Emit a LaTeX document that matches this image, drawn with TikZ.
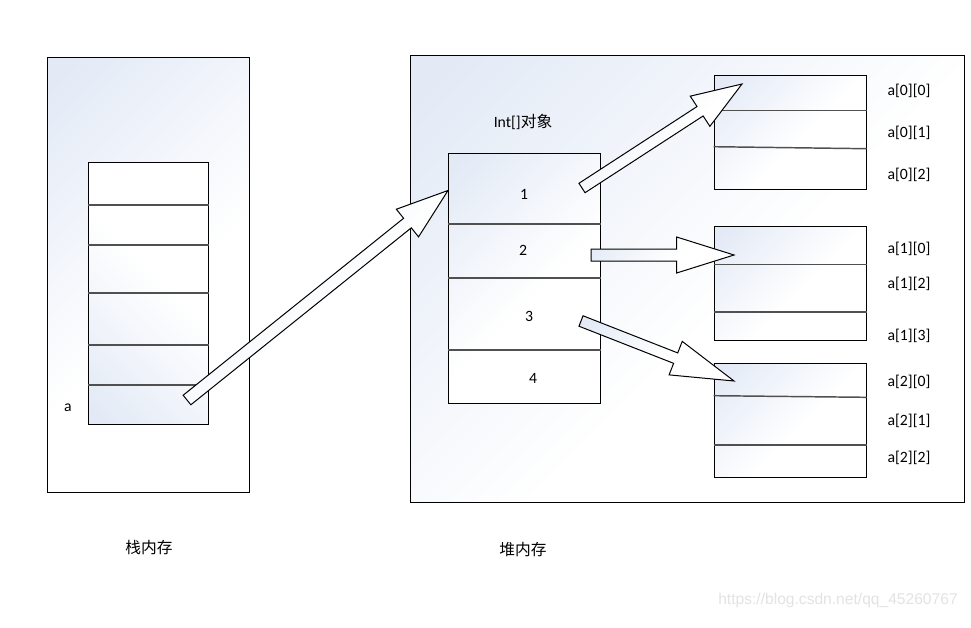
\documentclass[tikz,border=0pt]{standalone}
\usepackage{fontspec}
\setmainfont{Carlito}
\newfontfamily\cjk{Noto Sans CJK SC}
\newfontfamily\wmfont{Liberation Sans}
\usetikzlibrary{calc}
\definecolor{tint}{HTML}{E3EAF6}
\definecolor{divc}{HTML}{505050}
\pgfdeclarehorizontalshading{boxshade}{100bp}{color(0bp)=(tint); color(18bp)=(tint); color(55bp)=(white); color(100bp)=(white)}
\tikzset{
  box/.style={draw=black, line width=0.75pt, shading=boxshade, shading angle=-45, inner sep=0pt},
  divline/.style={draw=divc, line width=1.1pt},
  lbl/.style={font=\fontsize{11.8}{14}\selectfont, inner sep=0pt},
  cjklbl/.style={font=\cjk\fontsize{11.8}{14}\selectfont, inner sep=0pt},
  barrow/.style={draw=black, line width=0.75pt, shading=boxshade, shading angle=-45, line join=miter},
}
% name, x1, y1, x2, y2, style
\newcommand\mkbox[6]{%
  \node[#6, minimum width={(#4-#2)*0.75pt}, minimum height={(#5-#3)*0.75pt}] (#1) at ({(#2+#4)/2},{(#3+#5)/2}) {};}
% tail, tip, shaft half width (pt), head half width (pt), head length (pt)
\newcommand\blockarrow[5]{%
  \path[barrow] ($(#1)!#3!90:(#2)$) -- ($($(#2)!#5!(#1)$)!#3!-90:(#1)$)
     -- ($($(#2)!#5!(#1)$)!#4!-90:(#1)$) -- (#2)
     -- ($($(#2)!#5!(#1)$)!#4!90:(#1)$) -- ($($(#2)!#5!(#1)$)!#3!90:(#1)$)
     -- ($(#1)!#3!-90:(#2)$) -- cycle;}
\begin{document}
\begin{tikzpicture}[x=0.75pt, y=-0.75pt]
\useasboundingbox (0,0) rectangle (971,628);
\fill[white] (0,0) rectangle (971,628);

% stack memory
\mkbox{stack}{47}{57}{249}{492}{box}
\mkbox{stackin}{88}{162}{208}{424}{box, shading angle=45}
\foreach \yy in {205,245,293,345,385}
  \draw[divline] (stackin.west |- 0,\yy) -- (stackin.east |- 0,\yy);
\node[lbl] (la) at (68,408) {a};

% heap memory
\mkbox{heap}{410}{55}{964}{502}{box}
\mkbox{intarr}{448}{153}{600}{403}{box}
\foreach \yy in {224,278,350}
  \draw[divline] (intarr.west |- 0,\yy) -- (intarr.east |- 0,\yy);
\node[lbl] (n1) at (524,194) {1};
\node[lbl] (n2) at (523,250) {2};
\node[lbl] (n3) at (529,316) {3};
\node[lbl] (n4) at (533,378) {4};
\node[lbl] (title) at (523,122) {Int[]{\cjk 对象}};

\mkbox{arr0}{714}{75}{866}{189}{box}
\mkbox{arr1}{714}{226}{866}{340}{box}
\mkbox{arr2}{714}{363}{866}{477}{box}
\draw[divline] (arr0.west |- 0,110.7) -- (arr0.east |- 0,110.7);
\draw[divline] (arr0.west |- 0,146.7) -- (arr0.east |- 0,148.7);
\draw[divline] (arr1.west |- 0,264.3) -- (arr1.east |- 0,264.3);
\draw[divline] (arr1.west |- 0,312) -- (arr1.east |- 0,312);
\draw[divline] (arr2.west |- 0,395.7) -- (arr2.east |- 0,397.3);
\draw[divline] (arr2.west |- 0,445) -- (arr2.east |- 0,445);

\node[lbl] (l00) at (909,90.7) {a[0][0]};
\node[lbl] (l01) at (909,132.7) {a[0][1]};
\node[lbl] (l02) at (909,174.7) {a[0][2]};
\node[lbl] (l10) at (909,249.3) {a[1][0]};
\node[lbl] (l12) at (909,284) {a[1][2]};
\node[lbl] (l13) at (909,335.7) {a[1][3]};
\node[lbl] (l20) at (909,382.3) {a[2][0]};
\node[lbl] (l21) at (909,420.7) {a[2][1]};
\node[lbl] (l22) at (909,458.3) {a[2][2]};

% arrows
\coordinate (t0) at (187,400);  \coordinate (p0) at (448,190.5);
\coordinate (t1) at (582,188);  \coordinate (p1) at (742,84);
\coordinate (t2) at (591,255);  \coordinate (p2) at (734,255);
\coordinate (t3) at (581,321);  \coordinate (p3) at (734,381);
\blockarrow{t0}{p0}{4.6pt}{13.3pt}{39pt}
\blockarrow{t1}{p1}{4.2pt}{13.5pt}{37.5pt}
\blockarrow{t2}{p2}{4.5pt}{13.5pt}{43pt}
\blockarrow{t3}{p3}{4.2pt}{13.5pt}{47pt}

% captions
\node[cjklbl] (cap1) at (149,548) {栈内存};
\node[cjklbl] (cap2) at (523,550) {堆内存};
\node[inner sep=0pt, text=gray!22, font=\wmfont\fontsize{11.7}{14}\selectfont] (wm) at (838,600) {https://blog.csdn.net/qq\_45260767};
\end{tikzpicture}
\end{document}
